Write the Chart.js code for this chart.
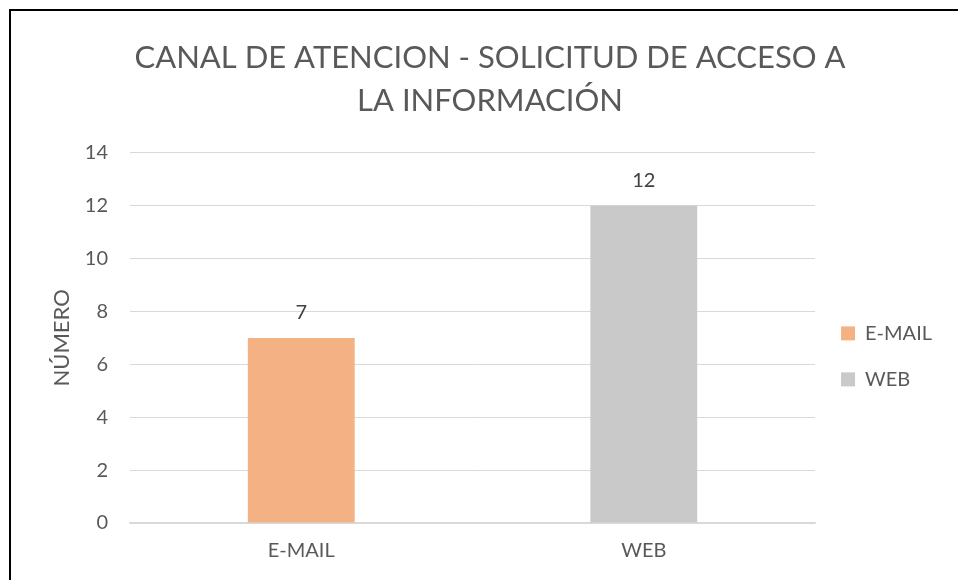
<!DOCTYPE html>
<html lang="es">
<head>
<meta charset="UTF-8">
<title>Canal de atención</title>
<script src="https://cdn.jsdelivr.net/npm/chart.js"></script>
<style>
  html, body { margin: 0; padding: 0; background: #fff; overflow: hidden; }
  .marco { position: absolute; left: 9px; top: 9px; width: 1000px; height: 640px; border: 2px solid #000; box-sizing: border-box; }
  .caja { position: absolute; left: 0; top: 0; width: 958px; height: 580px; }
</style>
</head>
<body>
<div class="marco"></div>
<div class="caja"><canvas id="grafico"></canvas></div>
<script>
  // datos
  const categorias = ['E-MAIL', 'WEB'];
  const valores = [7, 12];
  const colores = ['#F4B183', '#C9C9C9'];
  const titulo = ['CANAL DE ATENCION - SOLICITUD DE ACCESO A', 'LA INFORMACIÓN'];
  const ticksY = [0, 2, 4, 6, 8, 10, 12, 14];

  const fuente = 'Lato, "Open Sans", sans-serif';
  const gris = '#595959';

  // un dataset por canal para que la leyenda muestre ambos
  const datasets = categorias.map((cat, i) => ({
    label: cat,
    data: categorias.map((c, j) => (j === i ? valores[i] : null)),
    backgroundColor: colores[i],
    borderWidth: 0,
    grouped: false,
    categoryPercentage: 1,
    barPercentage: 0.312
  }));

  // etiquetas de valor sobre las barras
  const etiquetas = {
    id: 'etiquetas',
    afterDatasetsDraw(chart) {
      const ctx = chart.ctx;
      ctx.save();
      ctx.font = '20px ' + fuente;
      ctx.fillStyle = '#404040';
      ctx.textAlign = 'center';
      ctx.textBaseline = 'middle';
      chart.data.datasets.forEach((ds, i) => {
        chart.getDatasetMeta(i).data.forEach((bar, j) => {
          if (ds.data[j] == null) return;
          ctx.fillText(ds.data[j], bar.x, bar.y - 25);
        });
      });
      ctx.restore();
    }
  };

  new Chart(document.getElementById('grafico'), {
    type: 'bar',
    data: { labels: categorias, datasets: datasets },
    plugins: [etiquetas],
    options: {
      responsive: true,
      maintainAspectRatio: false,
      animation: false,
      layout: { padding: { left: 38, right: 16, top: 16, bottom: 0 } },
      scales: {
        y: {
          min: 0,
          max: 14,
          afterBuildTicks: s => { s.ticks = ticksY.map(v => ({ value: v })); },
          afterFit: s => { s.width = 92; },
          grid: { color: '#D9D9D9', drawTicks: false },
          border: { display: false },
          ticks: { color: gris, font: { family: fuente, size: 20 }, padding: 22 },
          title: { display: true, text: 'NÚMERO', color: gris, font: { family: fuente, size: 22 }, padding: { top: 11, bottom: 0 } }
        },
        x: {
          afterFit: s => { s.height = 57; },
          grid: { display: false, drawTicks: false },
          border: { color: '#D9D9D9', width: 1.5 },
          ticks: { color: gris, font: { family: fuente, size: 20 }, padding: 16 }
        }
      },
      plugins: {
        title: {
          display: true,
          text: titulo,
          color: gris,
          font: { family: fuente, size: 31, weight: 'normal', lineHeight: 1.4 },
          padding: { top: 20, bottom: 30 }
        },
        legend: {
          position: 'right',
          title: { display: true, text: '', font: { size: 14 }, padding: { top: 50, bottom: 50 } },
          labels: {
            color: gris,
            font: { family: fuente, size: 20 },
            boxWidth: 14,
            boxHeight: 14,
            padding: 26
          }
        },
        tooltip: { enabled: false }
      }
    }
  });
</script>
</body>
</html>
